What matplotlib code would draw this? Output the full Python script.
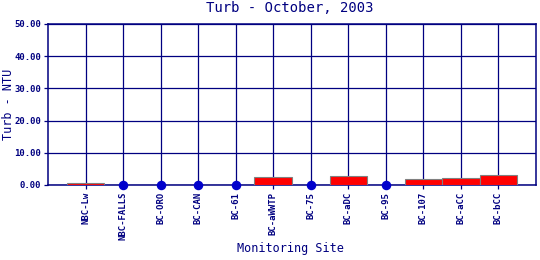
"""
Turbidity by monitoring site, October 2003
"""

import matplotlib
matplotlib.use('Agg')
import matplotlib.pyplot as plt  # pylint: disable=wrong-import-position

sites = ['NBC-Lw', 'NBC-FALLS', 'BC-ORO', 'BC-CAN', 'BC-61', 'BC-aWWTP',
         'BC-75', 'BC-aDC', 'BC-95', 'BC-107', 'BC-aCC', 'BC-bCC']
# None = no sample (drawn as a dot on the zero line)
turb = [0.7, None, None, None, None, 2.4, None, 2.8, None, 1.9, 2.2, 3.1]
y_ticks = [0, 10, 20, 30, 40, 50]

NAVY = '#000080'
plt.rcParams['font.family'] = ['DejaVu Sans Mono', 'DejaVu Sans']

fig = plt.figure(figsize=(5.4, 2.6), dpi=100)
ax = fig.add_axes([0.0889, 0.2885, 0.9037, 0.6192])

# Grid lines sit on each category and each y tick
ax.set_xlim(-1, len(sites))
ax.set_ylim(0, 50)
ax.set_xticks(range(len(sites)))
ax.set_yticks(y_ticks)
ax.grid(True, color=NAVY, linewidth=0.9)
ax.set_axisbelow(True)

bar_x = [i for i, v in enumerate(turb) if v is not None]
bar_h = [v for v in turb if v is not None]
ax.bar(bar_x, bar_h, width=1.0, color='#ff0000', edgecolor='#808080',
       linewidth=0.8, zorder=3)

dot_x = [i for i, v in enumerate(turb) if v is None]
ax.scatter(dot_x, [0] * len(dot_x), s=34, color='#0000cc', zorder=4,
           clip_on=False)

for side in ax.spines.values():
    side.set_color(NAVY)
    side.set_linewidth(1.1)

ax.set_xticklabels(sites, rotation=90, fontsize=6.5, color=NAVY,
                   fontweight='bold')
ax.set_yticklabels([f'{v:.2f}' for v in y_ticks], fontsize=6.5, color=NAVY,
                   fontweight='bold')
ax.tick_params(axis='both', length=3, width=0.9, color=NAVY, pad=2)

fig.text(0.537, 0.968, 'Turb - October, 2003', fontsize=10, color=NAVY,
         ha='center', va='center')
fig.text(0.004, 0.6, 'Turb - NTU', fontsize=8.5, color=NAVY,
         rotation=90, ha='left', va='center')
fig.text(0.537, 0.02, 'Monitoring Site', fontsize=8.5, color=NAVY,
         ha='center', va='bottom')

plt.savefig('out.png', dpi=100)
plt.close()
